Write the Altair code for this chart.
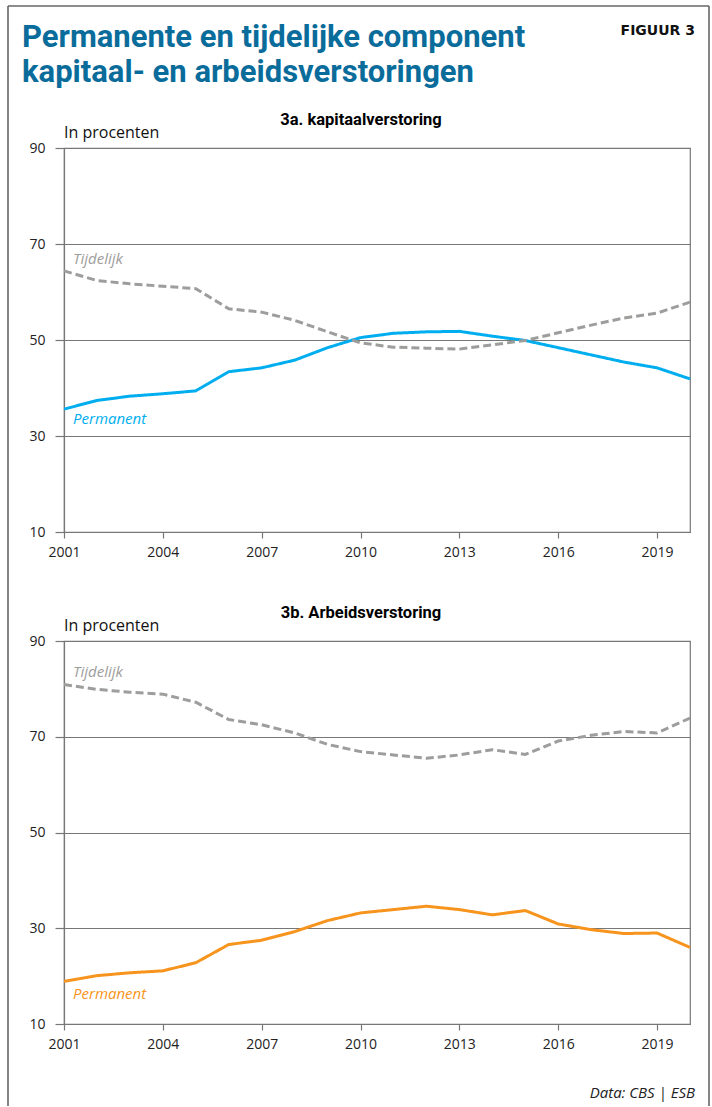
import altair as alt
import pandas as pd

# ---- data ----
years = list(range(2001, 2021))
kap_perm = [35.6, 37.4, 38.3, 38.8, 39.4, 43.4, 44.2, 45.8, 48.4, 50.5,
            51.4, 51.7, 51.8, 50.8, 49.9, 48.4, 46.9, 45.4, 44.2, 41.9]
kap_tijd = [64.4, 62.4, 61.7, 61.2, 60.7, 56.5, 55.8, 54.1, 51.7, 49.4,
            48.5, 48.3, 48.1, 49.0, 49.9, 51.5, 53.1, 54.6, 55.6, 57.9]
arb_perm = [18.9, 20.1, 20.7, 21.1, 22.8, 26.6, 27.5, 29.3, 31.6, 33.2,
            33.9, 34.6, 33.9, 32.8, 33.7, 30.9, 29.7, 28.9, 29.0, 26.0]
arb_tijd = [80.9, 79.9, 79.3, 78.9, 77.2, 73.6, 72.5, 70.8, 68.4, 66.9,
            66.2, 65.5, 66.2, 67.3, 66.3, 69.1, 70.3, 71.1, 70.8, 73.9]
series = ["Permanent", "Tijdelijk"]
x_ticks = [2001, 2004, 2007, 2010, 2013, 2016, 2019]
y_ticks = [10, 30, 50, 70, 90]
# label anchor (year, value) for the inline series labels
kap_label_pos = {"Permanent": (2001, 32.4), "Tijdelijk": (2001, 65.8)}
arb_label_pos = {"Permanent": (2001, 15.3), "Tijdelijk": (2001, 82.4)}

title_lines = ["Permanente en tijdelijke component", "kapitaal- en arbeidsverstoringen"]
sub_a = "3a. kapitaalverstoring"
sub_b = "3b. Arbeidsverstoring"
unit = "In procenten"
fig_label = "FIGUUR 3"
source = "Data: CBS | ESB"

BLUE = "#00aeef"
ORANGE = "#f7941d"
GRAY = "#9d9d9c"
AXIS = "#777777"
TITLE_BLUE = "#0a6c9b"

W = 626


def xenc():
    return alt.X("jaar:Q",
                 scale=alt.Scale(domain=[2001, 2020], nice=False, zero=False),
                 axis=alt.Axis(values=x_ticks, format="d", title=None, grid=False,
                               tickSize=6, tickColor=AXIS, tickWidth=1.2,
                               domainColor=AXIS, domainWidth=1.2,
                               labelFont="Open Sans", labelFontSize=14,
                               labelColor="#222", labelPadding=7, labelFlush=False))


def yenc():
    return alt.Y("waarde:Q",
                 scale=alt.Scale(domain=[10, 90], nice=False, zero=False),
                 axis=alt.Axis(values=y_ticks, title=None, grid=True,
                               gridColor=AXIS, gridWidth=1.2,
                               tickSize=9, tickColor=AXIS, tickWidth=1.2,
                               domainColor=AXIS, domainWidth=1.2,
                               labelFont="Open Sans", labelFontSize=14,
                               labelColor="#222", labelPadding=10))


def panel(perm, tijd, perm_color, label_pos, subtitle):
    df = pd.DataFrame({
        "jaar": years * 2,
        "waarde": perm + tijd,
        "reeks": ["Permanent"] * len(years) + ["Tijdelijk"] * len(years),
    })
    color = alt.Color("reeks:N", scale=alt.Scale(domain=series, range=[perm_color, GRAY]),
                      legend=None)
    lines = alt.Chart(df).mark_line(strokeWidth=3).encode(
        x=xenc(), y=yenc(), color=color,
        strokeDash=alt.StrokeDash("reeks:N",
                                  scale=alt.Scale(domain=series, range=[[1, 0], [8, 4]]),
                                  legend=None),
    )
    ldf = pd.DataFrame({
        "reeks": series,
        "jaar": [label_pos[s][0] for s in series],
        "waarde": [label_pos[s][1] for s in series],
    })
    labels = alt.Chart(ldf).mark_text(align="left", baseline="alphabetic", dx=9,
                                      font="Open Sans", fontStyle="italic",
                                      fontSize=15).encode(
        x=xenc(), y=yenc(), color=color, text="reeks:N")
    sub = alt.Chart(pd.DataFrame({"t": [subtitle]})).mark_text(
        align="center", baseline="alphabetic", font="Roboto", fontWeight="bold",
        fontSize=16.5, color="#000").encode(x=alt.value(297), y=alt.value(-23), text="t:N")
    u = alt.Chart(pd.DataFrame({"t": [unit]})).mark_text(
        align="left", baseline="alphabetic", font="Open Sans", fontSize=16,
        color="#111").encode(x=alt.value(0), y=alt.value(-10), text="t:N")
    return [lines, labels, sub, u]


# ---- top panel ----
top_layers = panel(kap_perm, kap_tijd, BLUE, kap_label_pos, sub_a)
title1 = alt.Chart(pd.DataFrame({"t": [title_lines[0]]})).mark_text(
    align="left", baseline="alphabetic", font="Roboto", fontWeight="bold",
    fontSize=31, color=TITLE_BLUE).encode(x=alt.value(-42), y=alt.value(-101), text="t:N")
title2 = alt.Chart(pd.DataFrame({"t": [title_lines[1]]})).mark_text(
    align="left", baseline="alphabetic", font="Roboto", fontWeight="bold",
    fontSize=31, color=TITLE_BLUE).encode(x=alt.value(-42), y=alt.value(-66), text="t:N")
fig = alt.Chart(pd.DataFrame({"t": [fig_label]})).mark_text(
    align="right", baseline="alphabetic", font="DejaVu Sans", fontWeight="bold",
    fontSize=14, color="#111").encode(x=alt.value(631), y=alt.value(-113), text="t:N")
dummy = pd.DataFrame({"a": [0]})
frame_left = alt.Chart(dummy).mark_rule(color="#666", strokeWidth=1.6).encode(
    x=alt.value(-56), y=alt.value(-142), y2=alt.value(958))
frame_right = alt.Chart(dummy).mark_rule(color="#666", strokeWidth=1.6).encode(
    x=alt.value(645), y=alt.value(-142), y2=alt.value(958))
frame_top = alt.Chart(dummy).mark_rule(color="#666", strokeWidth=1.6).encode(
    x=alt.value(-56), x2=alt.value(645), y=alt.value(-142))

top = alt.layer(*top_layers, title1, title2, fig, frame_left, frame_right, frame_top).properties(
    width=W, height=384)

# ---- bottom panel ----
bot_layers = panel(arb_perm, arb_tijd, ORANGE, arb_label_pos, sub_b)
src = alt.Chart(pd.DataFrame({"t": [source]})).mark_text(
    align="right", baseline="alphabetic", font="Open Sans", fontStyle="italic",
    fontSize=15, color="#222").encode(x=alt.value(631), y=alt.value(457), text="t:N")
bottom = alt.layer(*bot_layers, src).properties(width=W, height=383)

chart = alt.vconcat(top, bottom, spacing=109, bounds="flush").resolve_scale(
    color="independent", strokeDash="independent"
).properties(
    padding={"left": 6, "top": 4, "right": 0, "bottom": 0},
    autosize=alt.AutoSizeParams(type="pad"),
    background="white",
).configure_view(stroke=AXIS, strokeWidth=1.2)

chart.save("out.html", embed_options={"renderer": "svg", "actions": False})
